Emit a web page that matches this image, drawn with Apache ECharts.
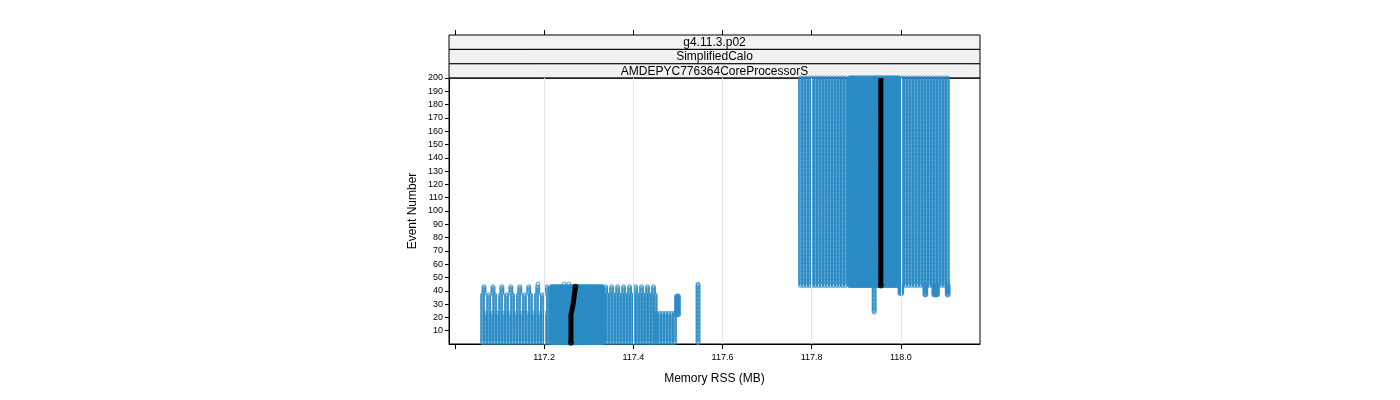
<!DOCTYPE html>
<html><head><meta charset="utf-8">
<script src="https://cdn.jsdelivr.net/npm/echarts@6/dist/echarts.min.js"></script>
<style>body{margin:0}#c{width:1400px;height:400px}</style></head>
<body><div id="c"></div>
<script>
// Column groups: [xStart, xEnd, step, eventFrom, eventTo]
const columnGroups = [
  [117.062, 117.212, 0.0067, 1, 23],
  [117.062, 117.212, 0.0134, 24, 37],
  [117.065, 117.212, 0.0201, 38, 43],
  [117.215, 117.332, 0.0022, 1, 43],
  [117.335, 117.450, 0.0067, 1, 37],
  [117.338, 117.450, 0.0134, 38, 43],
  [117.452, 117.496, 0.0067, 1, 23],
  [117.497, 117.501, 0.002, 22, 36],
  [117.545, 117.546, 0.002, 1, 45],
  [117.775, 117.882, 0.0067, 44, 200],
  [117.884, 117.994, 0.0022, 44, 200],
  [117.997, 118.110, 0.0067, 44, 200],
  [117.940, 117.941, 0.002, 24, 44],
  [117.998, 118.002, 0.002, 38, 44],
  [118.054, 118.056, 0.002, 37, 44],
  [118.074, 118.082, 0.002, 37, 44],
  [118.104, 118.106, 0.002, 37, 44]
];
const outliers = [[117.186, 45], [117.245, 45], [117.255, 45]];
const medianLowX = [117.260, 117.260, 117.262, 117.265, 117.268, 117.270];
const medianLowY = [1, 22, 25, 30, 38, 43];
const medianHighX = [117.955, 117.955];
const medianHighY = [44, 200];
const xTicks = [117.0, 117.2, 117.4, 117.6, 117.8, 118.0];
const xLabels = [117.2, 117.4, 117.6, 117.8, 118.0];
const yTicks = [10,20,30,40,50,60,70,80,90,100,110,120,130,140,150,160,170,180,190,200];
const strips = ['g4.11.3.p02', 'SimplifiedCalo', 'AMDEPYC776364CoreProcessorS'];

const pts = [];
columnGroups.forEach(g => {
  for (let x = g[0]; x <= g[1] + 1e-9; x += g[2])
    for (let e = g[3]; e <= g[4]; e++) pts.push([x, e]);
});
outliers.forEach(p => pts.push(p));
const med = medianLowX.map((x, i) => [x, medianLowY[i]]);
med.push([null, null]);
medianHighX.forEach((x, i) => med.push([x, medianHighY[i]]));

const L = 449, R = 980, T = 78, B = 344;
const chart = echarts.init(document.getElementById('c'));
const font = 'Liberation Sans, Arial, sans-serif';
const graphics = [{type: 'rect', shape: {x: L, y: T, width: R - L, height: B - T},
  style: {fill: 'none', stroke: '#000', lineWidth: 1}, z: 10}];
strips.forEach((s, i) => {
  const y = 35 + i * 14.4;
  graphics.push({type: 'rect', shape: {x: L, y: y, width: R - L, height: 14.4},
    style: {fill: '#f2f2f2', stroke: '#000', lineWidth: 1}});
  graphics.push({type: 'text', x: (L + R) / 2, y: y + 7.5,
    style: {text: s, fill: '#000', font: '12px ' + font, align: 'center', verticalAlign: 'middle'}});
});
chart.setOption({
  animation: false,
  grid: {left: L, right: 1400 - R, top: T, bottom: 400 - B},
  graphic: graphics,
  xAxis: [{
    type: 'value', min: 116.9865, max: 118.1775, position: 'bottom',
    name: 'Memory RSS (MB)', nameLocation: 'middle', nameGap: 29,
    nameTextStyle: {color: '#000', fontSize: 12, fontFamily: font},
    axisLine: {show: true, lineStyle: {color: '#000'}},
    axisTick: {show: true, inside: false, length: 5, customValues: xTicks, lineStyle: {color: '#000'}},
    axisLabel: {customValues: xLabels, color: '#000', fontSize: 9, fontFamily: font,
      formatter: v => v.toFixed(1), margin: 9},
    splitLine: {show: false}
  }, {
    type: 'value', min: 116.9865, max: 118.1775, position: 'top', offset: 43,
    axisLine: {show: false},
    axisTick: {show: true, length: 5, customValues: xTicks, lineStyle: {color: '#000'}},
    axisLabel: {show: false}, splitLine: {show: false}
  }],
  yAxis: {
    type: 'value', min: 0, max: 200,
    name: 'Event Number', nameLocation: 'middle', nameGap: 30,
    nameTextStyle: {color: '#000', fontSize: 12, fontFamily: font},
    axisLine: {show: true, lineStyle: {color: '#000'}},
    axisTick: {show: true, length: 4, customValues: yTicks, lineStyle: {color: '#000'}},
    axisLabel: {customValues: yTicks, color: '#000', fontSize: 9, fontFamily: font, margin: 6},
    splitLine: {show: false}
  },
  series: [{
    type: 'scatter', data: pts, symbol: 'circle', symbolSize: 4,
    large: false, progressive: 0,
    itemStyle: {color: 'rgba(255,255,255,0)', borderColor: '#2b8cc4', borderWidth: 1, opacity: 0.85},
    markLine: {silent: true, symbol: 'none', label: {show: false},
      lineStyle: {color: '#e6e6e6', type: 'solid', width: 1},
      data: xLabels.map(v => ({xAxis: v}))},
    z: 2
  }, {
    type: 'line', data: med, symbol: 'none', connectNulls: false,
    lineStyle: {color: '#000', width: 5}, z: 3
  }, {
    type: 'scatter', data: [[117.270, 43], [117.260, 1], [117.955, 44]], symbolSize: 6,
    itemStyle: {color: '#000'}, z: 3
  }]
});
</script></body></html>
